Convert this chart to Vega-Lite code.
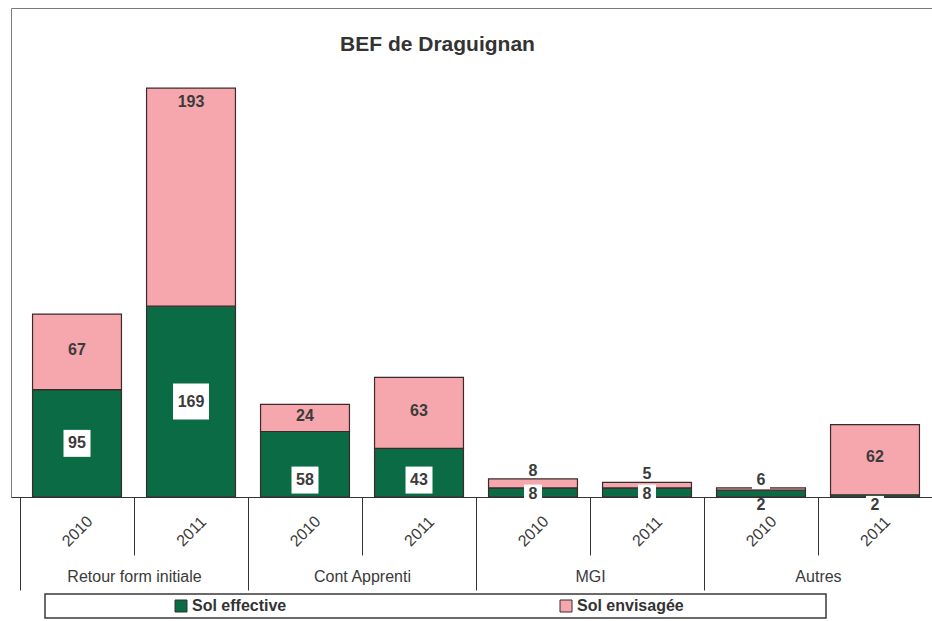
{
  "$schema": "https://vega.github.io/schema/vega-lite/v6.json",
  "width": 921,
  "height": 489,
  "autosize": "none",
  "padding": {"left": 11, "top": 8, "right": 0, "bottom": 124},
  "background": "white",
  "config": {
    "font": "Liberation Sans",
    "view": {"stroke": "#7a7a7a", "strokeWidth": 1}
  },
  "title": {
    "text": "BEF de Draguignan",
    "font": "Liberation Sans",
    "fontSize": 21,
    "fontWeight": "bold",
    "color": "#333333",
    "anchor": "middle",
    "frame": "group",
    "baseline": "alphabetic",
    "offset": -64,
    "dx": -34
  },
  "data": {
    "values": [
      {"cat": "Retour form initiale", "year": "2010", "type": "Sol effective", "value": 95},
      {"cat": "Retour form initiale", "year": "2010", "type": "Sol envisagée", "value": 67},
      {"cat": "Retour form initiale", "year": "2011", "type": "Sol effective", "value": 169},
      {"cat": "Retour form initiale", "year": "2011", "type": "Sol envisagée", "value": 193},
      {"cat": "Cont Apprenti", "year": "2010", "type": "Sol effective", "value": 58},
      {"cat": "Cont Apprenti", "year": "2010", "type": "Sol envisagée", "value": 24},
      {"cat": "Cont Apprenti", "year": "2011", "type": "Sol effective", "value": 43},
      {"cat": "Cont Apprenti", "year": "2011", "type": "Sol envisagée", "value": 63},
      {"cat": "MGI", "year": "2010", "type": "Sol effective", "value": 8},
      {"cat": "MGI", "year": "2010", "type": "Sol envisagée", "value": 8},
      {"cat": "MGI", "year": "2011", "type": "Sol effective", "value": 8},
      {"cat": "MGI", "year": "2011", "type": "Sol envisagée", "value": 5},
      {"cat": "Autres", "year": "2010", "type": "Sol effective", "value": 6},
      {"cat": "Autres", "year": "2010", "type": "Sol envisagée", "value": 2},
      {"cat": "Autres", "year": "2011", "type": "Sol effective", "value": 2},
      {"cat": "Autres", "year": "2011", "type": "Sol envisagée", "value": 62}
    ]
  },
  "transform": [
    {"calculate": "datum.cat + ' ' + datum.year", "as": "key"},
    {"stack": "value", "groupby": ["key"], "sort": [{"field": "type", "order": "ascending"}], "as": ["v0", "v1"]},
    {"calculate": "datum.type == 'Sol effective' ? (datum.value >= 80 ? (datum.v0 + datum.v1) / 2 : datum.value >= 10 ? 15 : datum.value >= 7 ? 3 : datum.value >= 5 ? 15 : -7) : (datum.value >= 150 ? datum.v1 - 12 : datum.value >= 20 ? (datum.v0 + datum.v1) / 2 + 2 : datum.value >= 5 ? datum.v1 + 7 : -7)", "as": "labY"}
  ],
  "layer": [
    {
      "encoding": {
        "x": {
          "field": "key",
          "type": "nominal",
          "sort": null,
          "scale": {"paddingInner": 0, "paddingOuter": 0.0395, "align": 1},
          "axis": {
            "title": null,
            "orient": "bottom",
            "labelExpr": "slice(datum.label, -4)",
            "labelAngle": -45,
            "labelAlign": "center",
            "labelBaseline": "middle",
            "labelPadding": -24,
            "labelFontSize": 16,
            "labelColor": "#3a3a3a",
            "labelOverlap": false,
            "tickBand": "extent",
            "tickSize": 58,
            "tickColor": "#333333",
            "tickWidth": 1,
            "domainColor": "#333333",
            "domainWidth": 1.2,
            "grid": false
          }
        }
      },
      "layer": [
        {
          "mark": {"type": "bar", "width": {"band": 0.78}, "stroke": "#3a2a2a", "strokeWidth": 1.2},
          "encoding": {
            "y": {"field": "v0", "type": "quantitative", "scale": {"domain": [0, 433], "nice": false}, "axis": null},
            "y2": {"field": "v1"},
            "color": {
              "field": "type",
              "type": "nominal",
              "scale": {"domain": ["Sol effective", "Sol envisagée"], "range": ["#0a6b45", "#f6a7ad"]},
              "legend": {
                "orient": "none",
                "legendX": 34,
                "legendY": 586,
                "direction": "horizontal",
                "title": "\u00a0",
                "titleOrient": "left",
                "titleFontSize": 12,
                "titlePadding": 124,
                "padding": 4,
                "strokeColor": "#3a3a3a",
                "fillColor": "white",
                "symbolType": "square",
                "symbolSize": 144,
                "symbolStrokeColor": "#333333",
                "symbolStrokeWidth": 1,
                "labelFontSize": 16,
                "labelFontWeight": "bold",
                "labelColor": "#333333",
                "labelOffset": 3,
                "labelLimit": 400,
                "columnPadding": 271,
                "labelExpr": "indexof(datum.label, 'envis') >= 0 ? pad(datum.label, 44, '\u00a0') + '\u200b' : datum.label",
                "encode": {"legend": {"update": {"strokeWidth": {"value": 1.5}}}}
              }
            }
          }
        },
        {
          "transform": [{"filter": "datum.type == 'Sol effective'"}],
          "mark": {"type": "point", "shape": "square", "filled": true, "color": "white", "opacity": 1, "strokeWidth": 0},
          "encoding": {
            "y": {"field": "labY", "type": "quantitative"},
            "size": {
              "condition": [
                {"test": "datum.value >= 100", "value": 1296},
                {"test": "datum.value < 10", "value": 324}
              ],
              "value": 729
            }
          }
        },
        {
          "mark": {"type": "text", "fontSize": 16, "fontWeight": "bold", "color": "#3b3b3b", "align": "center", "baseline": "middle"},
          "encoding": {
            "y": {"field": "labY", "type": "quantitative"},
            "text": {"field": "value", "type": "quantitative"}
          }
        }
      ]
    },
    {
      "mark": {"type": "text", "text": ""},
      "encoding": {
        "x": {
          "field": "cat",
          "type": "nominal",
          "sort": null,
          "scale": {"paddingInner": 0, "paddingOuter": 0.0197, "align": 1},
          "axis": {
            "title": null,
            "orient": "bottom",
            "labelAngle": 0,
            "labelAlign": "center",
            "labelBaseline": "middle",
            "labelPadding": -14,
            "labelFontSize": 16,
            "labelColor": "#3a3a3a",
            "tickBand": "extent",
            "tickSize": 93,
            "tickColor": "#333333",
            "tickWidth": 1,
            "domain": false,
            "grid": false
          }
        }
      }
    }
  ],
  "resolve": {"scale": {"x": "independent"}, "axis": {"x": "independent"}}
}
